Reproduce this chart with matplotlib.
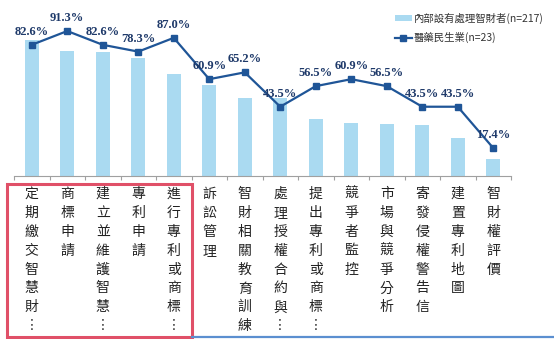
import matplotlib
matplotlib.use("Agg")
import matplotlib.pyplot as plt
from matplotlib.patches import Rectangle
from matplotlib.lines import Line2D
import numpy as np

plt.rcParams['font.family'] = ['Noto Sans CJK TC', 'DejaVu Sans']

# data
categories = ['定期繳交智慧財…', '商標申請', '建立並維護智慧…', '專利申請', '進行專利或商標…',
              '訴訟管理', '智財相關教育訓練', '處理授權合約與…', '提出專利或商標…', '競爭者監控',
              '市場與競爭分析', '寄發侵權警告信', '建置專利地圖', '智財權評價']
internal_ip = [85.7, 78.8, 77.9, 74.2, 64.1, 57.1, 49.3, 48.8, 35.5, 33.2, 32.3, 31.8, 23.5, 10.6]
pharma = [82.6, 91.3, 82.6, 78.3, 87.0, 60.9, 65.2, 43.5, 56.5, 60.9, 56.5, 43.5, 43.5, 17.4]
bar_label = '內部設有處理智財者(n=217)'
line_label = '醫藥民生業(n=23)'

bar_color = '#AADAF1'
line_color = '#1F5597'
text_color = '#1F3A6A'

fig = plt.figure(figsize=(5.54, 3.39), dpi=100)
ax = fig.add_axes([14 / 554, 0.482, 497 / 554, 0.518])

x = np.arange(len(categories))
bars = ax.bar(x, internal_ip, width=0.39, color=bar_color, zorder=2)
line, = ax.plot(x, pharma, color=line_color, lw=1.6, marker='s', markersize=5,
                zorder=3)

for xi, v in zip(x, pharma):
    ax.annotate(f'{v:.1f}%', (xi, v), xytext=(0, 5), textcoords='offset points',
                ha='center', va='bottom', fontsize=9, fontweight='bold',
                family='Liberation Serif', color=text_color, zorder=4)

ax.set_xlim(-0.5, len(categories) - 0.5)
ax.set_ylim(0, 110.9)
ax.set_yticks([])
for s in ['top', 'right', 'left']:
    ax.spines[s].set_visible(False)
ax.spines['bottom'].set_color('#A0A0A0')
ax.spines['bottom'].set_linewidth(0.8)

ax.set_xticks(x)
ax.set_xticklabels(['\n'.join(c.replace('…', '︙')) for c in categories],
                   fontsize=10, linespacing=1.45, va='top', color='#222222')
ax.set_xticks(np.arange(-0.5, len(categories)), minor=True)
ax.tick_params(axis='x', which='major', length=0, pad=8)
ax.tick_params(axis='x', which='minor', length=3, color='#A0A0A0', width=0.8)

# legend
fig.legend([bars, line], [bar_label, line_label], loc='upper left',
           bbox_to_anchor=(394 / 554, 1 - 12 / 339), frameon=False,
           fontsize=7.5, handlelength=1.6, handleheight=0.5, handletextpad=0.2,
           borderpad=0.1, borderaxespad=0, labelspacing=0.75, labelcolor='#333333')

# highlight box and bottom rule
fig.add_artist(Rectangle((6.5 / 554, 2 / 339), 185 / 554, 153.5 / 339,
                         transform=fig.transFigure, fill=False,
                         edgecolor='#E05068', lw=2.2))
fig.add_artist(Line2D([192 / 554, 1], [2 / 339, 2 / 339], transform=fig.transFigure,
                      color='#5B8FD0', lw=1.6))

fig.savefig('out.png', dpi=100)
